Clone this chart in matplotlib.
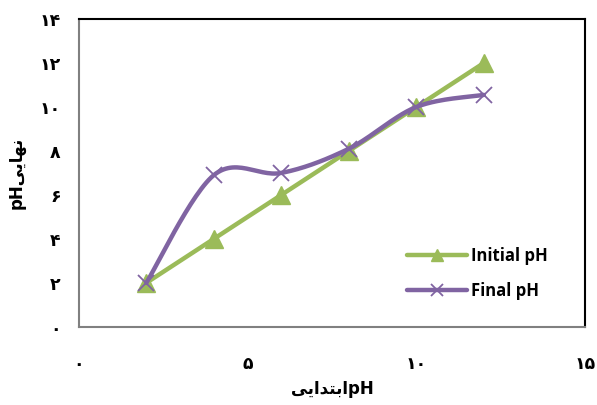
import matplotlib
matplotlib.use("Agg")
import matplotlib.pyplot as plt
import numpy as np
from matplotlib.lines import Line2D

x_vals = [2, 4, 6, 8, 10, 12]
initial_ph = [2, 4, 6, 8, 10, 12]
final_ph = [2.0, 6.9, 7.0, 8.1, 10.0, 10.55]
x_ticks = [0, 5, 10, 15]
y_ticks = [0, 2, 4, 6, 8, 10, 12, 14]

def fa_digits(n):
    return "".join(chr(0x06F0 + int(c)) for c in str(n))

# visually ordered, pre-shaped Persian words
xlabel_fa = "\uFBFD\uFBFE\uFE8D\uFEAA\uFE98\uFE91\uFE8D"  # ابتدایی
ylabel_fa = "\uFBFD\uFBFE\uFE8E\uFEEC\uFEE7"              # نهایی

def smooth(xs, ys, n=30):
    xs = np.asarray(xs, float); ys = np.asarray(ys, float)
    px = np.concatenate([[xs[0]], xs, [xs[-1]]])
    py = np.concatenate([[ys[0]], ys, [ys[-1]]])
    ox, oy = [], []
    for i in range(1, len(px) - 2):
        p0 = np.array([px[i], py[i]]); p1 = np.array([px[i+1], py[i+1]])
        c1 = p0 + (p1 - np.array([px[i-1], py[i-1]])) / 6
        c2 = p1 - (np.array([px[i+2], py[i+2]]) - p0) / 6
        t = np.linspace(0, 1, n)[:, None]
        b = (1-t)**3*p0 + 3*(1-t)**2*t*c1 + 3*(1-t)*t**2*c2 + t**3*p1
        ox.extend(b[:, 0]); oy.extend(b[:, 1])
    return ox, oy

fig = plt.figure(figsize=(5.97, 4.05), dpi=100)
ax = fig.add_axes([0.132, 0.193, 0.848, 0.760])

green = "#9BBB59"
purple = "#8064A2"

ax.plot(x_vals, initial_ph, color=green, lw=3.2, marker="^", markersize=13,
        zorder=3, solid_capstyle="round")
sx, sy = smooth(x_vals, final_ph)
ax.plot(sx, sy, color=purple, lw=3.2, zorder=4, solid_capstyle="round")
ax.plot(x_vals, final_ph, ls="none", marker="x", markersize=12, mew=1.3,
        color=purple, zorder=5)
h1 = Line2D([], [], color=green, lw=3.2, marker="^", markersize=9, solid_capstyle="round")
h2 = Line2D([], [], color=purple, lw=3.2, marker="x", markersize=9, mew=1.3, solid_capstyle="round")

ax.set_xlim(0, 15)
ax.set_ylim(0, 14)
ax.set_xticks(x_ticks)
ax.set_yticks(y_ticks)
ax.set_xticklabels([fa_digits(v) for v in x_ticks], fontsize=12.5, fontweight="bold",
                   family="DejaVu Sans")
ax.set_yticklabels([fa_digits(v) for v in y_ticks], fontsize=12.5, fontweight="bold",
                   family="DejaVu Sans")
ax.tick_params(axis="both", length=0)
ax.tick_params(axis="x", pad=20)
ax.tick_params(axis="y", pad=13)

for s in ["left", "bottom"]:
    ax.spines[s].set_color("#808080")
    ax.spines[s].set_linewidth(1.5)
for s in ["top", "right"]:
    ax.spines[s].set_color("black")
    ax.spines[s].set_linewidth(1.5)

ax.set_xlabel(xlabel_fa + "pH", fontsize=12, fontweight="bold", family="DejaVu Sans",
              labelpad=5)
ax.set_ylabel("pH" + ylabel_fa, fontsize=12, fontweight="bold", family="DejaVu Sans",
              labelpad=10)

leg = ax.legend([h1, h2], ["Initial pH", "Final pH"], loc="lower right",
                bbox_to_anchor=(0.955, 0.04), frameon=False, handlelength=3.6,
                labelspacing=1.0, handletextpad=0.2,
                prop={"family": "Open Sans", "weight": "bold", "size": 12})

fig.savefig("out.png", dpi=100)
